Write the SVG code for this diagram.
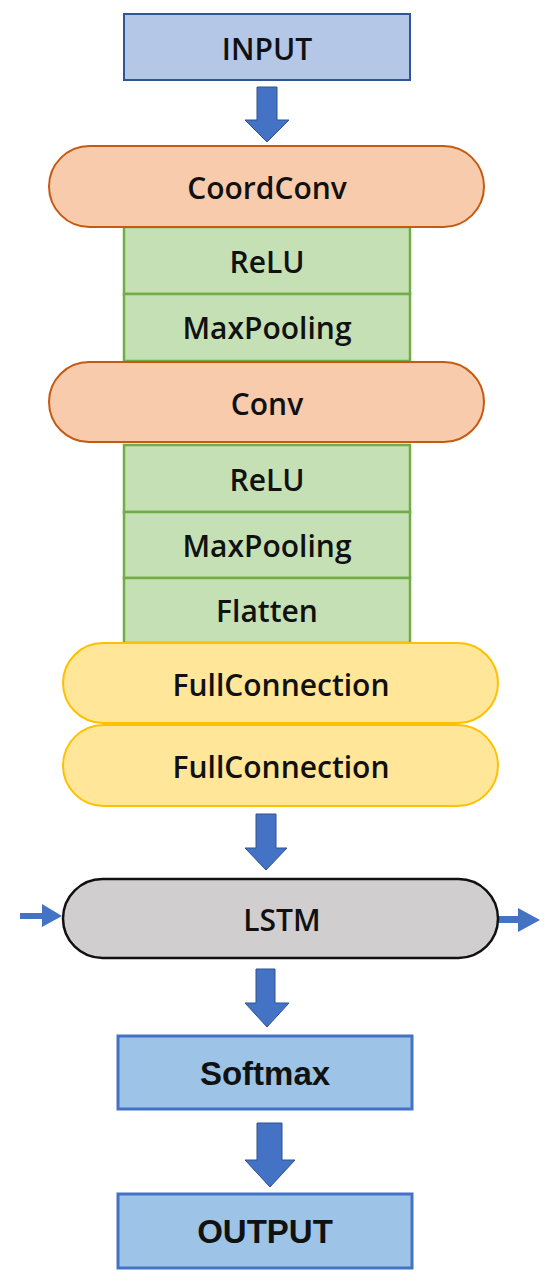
<svg xmlns="http://www.w3.org/2000/svg" width="550" height="1283" viewBox="0 0 550 1283">
<style>
.t{font-family:"Open Sans","Noto Sans","Liberation Sans",sans-serif;font-weight:600;font-size:30px;fill:#111;text-anchor:middle;dominant-baseline:central}
.a{font-family:"Liberation Sans",Arial,sans-serif;font-weight:700;font-size:33px;fill:#111;text-anchor:middle;dominant-baseline:central}
.blue1{fill:#b4c7e7;stroke:#2f5597;stroke-width:2}
.blue2{fill:#9dc3e6;stroke:#4472c4;stroke-width:3}
.orange{fill:#f8cbad;stroke:#c55a11;stroke-width:2}
.green{fill:#c5e0b4;stroke:#70ad47;stroke-width:2.5}
.yellow{fill:#ffe699;stroke:#ffc000;stroke-width:2}
.gray{fill:#d0cece;stroke:#111;stroke-width:2.5}
.arr{fill:#4472c4;stroke:#2f528f;stroke-width:1}
.sarr{fill:#4472c4}
</style>
<rect width="550" height="1283" fill="#fff"/>
<g id="connectors">
<polygon class="arr" points="257,87 277,87 277,120 289,120 267,142 245,120 257,120"/>
<polygon class="arr" points="256,814 276,814 276,848 287,848 266,870 245,848 256,848"/>
<polygon class="arr" points="256,969 275,969 275,1003 289,1003 267,1027 245,1003 256,1003"/>
<polygon class="arr" points="257,1123 282,1123 282,1160 295,1160 270,1187 245,1160 257,1160"/>
<polygon class="sarr" points="20,913 42,913 42,904 62,916 42,927 42,919 20,919"/>
<polygon class="sarr" points="497,916 518,916 518,908 540,920 518,932 518,923 497,923"/>
</g>
<g id="input"><rect class="blue1" x="124" y="14" width="286" height="66"/><text class="t" x="267" y="48">INPUT</text></g>
<g id="relu1"><rect class="green" x="124" y="227" width="286" height="67"/><text class="t" x="267" y="261">ReLU</text></g>
<g id="maxpool1"><rect class="green" x="124" y="294" width="286" height="67"/><text class="t" x="267" y="327">MaxPooling</text></g>
<g id="coordconv"><rect class="orange" x="49" y="146" width="435" height="81" rx="40.5"/><text class="t" x="267" y="187">CoordConv</text></g>
<g id="relu2"><rect class="green" x="124" y="445" width="286" height="67"/><text class="t" x="267" y="479">ReLU</text></g>
<g id="maxpool2"><rect class="green" x="124" y="512" width="286" height="66"/><text class="t" x="267" y="545">MaxPooling</text></g>
<g id="flatten"><rect class="green" x="124" y="578" width="286" height="65"/><text class="t" x="267" y="610">Flatten</text></g>
<g id="conv"><rect class="orange" x="49" y="362" width="435" height="80" rx="40"/><text class="t" x="267" y="403">Conv</text></g>
<g id="fc1"><rect class="yellow" x="63" y="643" width="435" height="80" rx="40"/><text class="t" x="281" y="684">FullConnection</text></g>
<g id="fc2"><rect class="yellow" x="63" y="725" width="435" height="81" rx="40.5"/><text class="t" x="281" y="766">FullConnection</text></g>
<g id="lstm"><rect class="gray" x="63" y="879" width="435" height="79" rx="39.5"/><text class="t" x="282" y="919">LSTM</text></g>
<g id="softmax"><rect class="blue2" x="118" y="1036" width="294" height="73"/><text class="a" x="265" y="1073">Softmax</text></g>
<g id="output"><rect class="blue2" x="118" y="1194" width="294" height="74"/><text class="a" x="265" y="1231">OUTPUT</text></g>
</svg>
